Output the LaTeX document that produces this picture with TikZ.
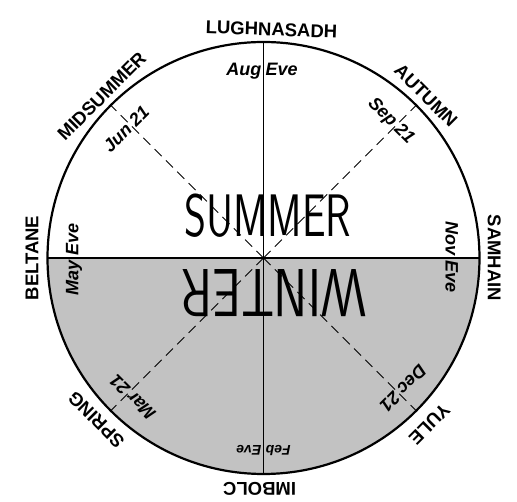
\documentclass[tikz,border=0pt]{standalone}
\usepackage{fontspec}
\newfontfamily\handfont{Liberation Sans}
\usepackage{tikz}

\begin{document}
\begin{tikzpicture}[x=1pt, y=1pt,
        season/.style={font=\handfont\bfseries\fontsize{18.5}{18.5}\selectfont,
                       anchor=south, inner sep=0pt},
        eve/.style={font=\handfont\bfseries\itshape\fontsize{18}{18}\selectfont,
                    inner sep=2pt},
        half/.style={font=\sffamily\fontsize{60}{60}\selectfont, transform shape},
        rim/.style={line width=2.2pt},
        axis/.style={line width=1.3pt},
        solstice/.style={line width=0.8pt, dash pattern=on 10pt off 6pt}
    ]
        \useasboundingbox (-263.5,-244) rectangle (253.5,258);

        % dark half of the year
        \coordinate (hub) at (0,0);
        \fill[black!24] (0:216) arc[start angle=0, end angle=-180, radius=216] -- cycle;

        % solstices and equinoxes
        \draw[solstice] (hub) -- (45:216);
        \draw[solstice] (hub) -- (135:216);
        \draw[solstice] (hub) -- (225:216);
        \draw[solstice] (hub) -- (315:216);

        % quarter days
        \draw[axis] (180:216) -- (0:216);
        \draw[axis] (90:216) -- (270:216);
        \draw[rim] (hub) circle[radius=216];

        % festivals round the rim
        \node[season, rotate=-2] (lugh) at (88:222) {LUGHNASADH};
        \node[season, rotate=45] (midsummer) at (135:222) {MIDSUMMER};
        \node[season, rotate=-45] (autumn) at (45:223) {AUTUMN};
        \node[season, rotate=-90] (samhain) at (0:224) {SAMHAIN};
        \node[season, rotate=90] (beltane) at (180:225) {BELTANE};
        \node[season, rotate=135] (spring) at (224:226) {SPRING};
        \node[season, rotate=180] (imbolc) at (269:224) {IMBOLC};
        \node[season, rotate=225] (yule) at (315:228) {YULE};

        % eves
        \node[eve, anchor=base east] (aug) at (90:182) {Aug};
        \node[eve, anchor=base west] (augeve) at (90:182) {Eve};
        \node[eve, rotate=-90, anchor=base east] (nov) at (0:182) {Nov};
        \node[eve, rotate=-90, anchor=base west] (noveve) at (0:182) {Eve};
        \node[eve, rotate=90, anchor=base east] (may) at (180:185) {May};
        \node[eve, rotate=90, anchor=base west] (mayeve) at (180:185) {Eve};
        \node[eve, font=\handfont\bfseries\itshape\fontsize{14}{14}\selectfont,
              rotate=180, anchor=base east] (feb) at (270:188) {Feb};
        \node[eve, font=\handfont\bfseries\itshape\fontsize{14}{14}\selectfont,
              rotate=180, anchor=base west] (febeve) at (270:188) {Eve};

        % dates
        \node[eve, rotate=45, anchor=base east] (jun) at (135:182) {Jun};
        \node[eve, rotate=45, anchor=base west] (jun21) at (135:182) {21};
        \node[eve, rotate=-45, anchor=base east] (sep) at (45:182) {Sep};
        \node[eve, rotate=-45, anchor=base west] (sep21) at (45:182) {21};
        \node[eve, rotate=135, anchor=base east] (mar) at (225:185) {Mar};
        \node[eve, rotate=135, anchor=base west] (mar21) at (225:185) {21};
        \node[eve, rotate=225, anchor=base east] (dec) at (315:185) {Dec};
        \node[eve, rotate=225, anchor=base west] (dec21) at (315:185) {21};

        % halves
        \node[half, xscale=0.70] (summer) at (4.5,42) {SUMMER};
        \node[half, font=\sffamily\fontsize{68}{68}\selectfont, xscale=0.75,
              rotate=180] (winter) at (10.5,-35) {WINTER};
    \end{tikzpicture}
\end{document}
